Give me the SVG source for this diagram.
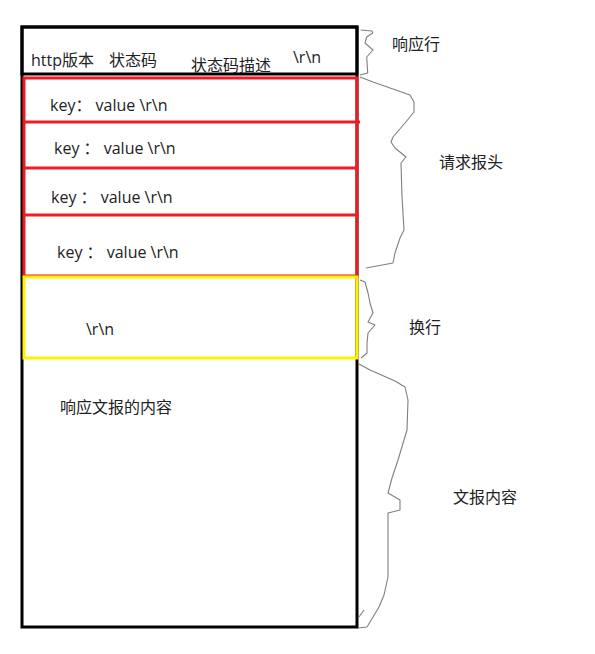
<svg xmlns="http://www.w3.org/2000/svg" width="595" height="654" viewBox="0 0 595 654">
<style>
text{font-family:"Open Sans","Noto Sans CJK SC",sans-serif;font-size:16px;fill:#222}
.blk{fill:none;stroke:#000;stroke-width:3}
.red{fill:none;stroke:#ED1C24;stroke-width:3}
.yel{fill:none;stroke:#FFF200;stroke-width:3}
.brace{fill:none;stroke:#7f7f7f;stroke-width:1.1;stroke-linejoin:round}
</style>
<rect width="595" height="654" fill="#fff"/>
<g id="body">
<rect class="blk" x="22" y="27" width="335" height="600"/>
<text x="60" y="413">响应文报的内容</text>
</g>
<g id="status-line">
<rect class="blk" x="22" y="27" width="335" height="47"/>
<text x="31" y="66">http版本</text>
<text x="109" y="66">状态码</text>
<text x="191" y="71">状态码描述</text>
<text x="293" y="63">\r\n</text>
</g>
<g id="headers">
<rect class="red" x="24" y="78" width="333" height="198"/>
<line class="red" x1="24" y1="122" x2="360" y2="122"/>
<line class="red" x1="24" y1="168" x2="357" y2="168"/>
<line class="red" x1="24" y1="215" x2="357" y2="215"/>
<text x="50" y="111">key： value \r\n</text>
<text x="54" y="154">key ： value \r\n</text>
<text x="51" y="203">key ： value \r\n</text>
<text x="57" y="258">key ： value \r\n</text>
</g>
<g id="blank-line">
<rect class="yel" x="24" y="277" width="333" height="81"/>
<text x="86" y="335">\r\n</text>
</g>
<g id="connectors">
<path class="brace" d="M360.7,30 L372,31 L372.7,33 L366.7,37 L365,43 L373,50 L366.7,57 L367.7,73 L360,75"/>
<path class="brace" d="M360,77 L373,82 L410,95 L414,102 L414,112 L405,123 L393,137 L391,142 L395,148 L406,157 L401,163 L402,197 L404,230 L400,238 L395,253 L393,263 L366,268"/>
<path class="brace" d="M360,280 L365,282 L368,293 L370,303 L373,313 L368,322 L375,325 L368,333 L367,343 L367,353 L361,358"/>
<path class="brace" d="M359,364 L370,370 L395,381 L405,387 L408,400 L407,430 L398,460 L392,478 L388,493 L400,500 L400,510 L388,513 L388,577 L384,595 L379,607 L367,627 L358,628"/>
<path class="brace" d="M359,617 L364,610"/>
</g>
<g id="labels">
<text x="392" y="50">响应行</text>
<text x="439" y="168">请求报头</text>
<text x="409" y="333">换行</text>
<text x="453" y="503">文报内容</text>
</g>
</svg>
